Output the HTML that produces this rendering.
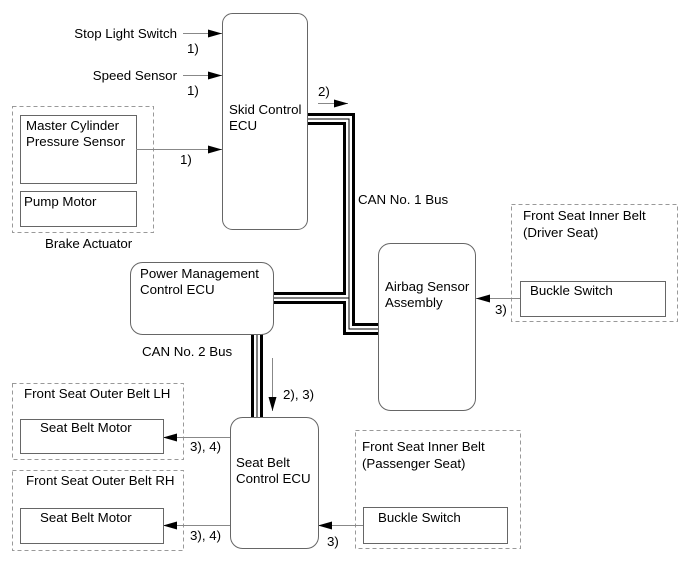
<!DOCTYPE html>
<html><head><style>
html,body{margin:0;padding:0;background:#fff;}
svg{display:block;}
text{font-family:"Liberation Sans",Arial,sans-serif;font-size:13.3px;fill:#000;}
</style></head><body>
<svg width="691" height="562" viewBox="0 0 691 562" xmlns="http://www.w3.org/2000/svg">
<defs>
<marker id="ah" markerWidth="14" markerHeight="8" refX="14" refY="4" orient="auto" markerUnits="userSpaceOnUse">
<path d="M0,0 L14,4 L0,8 z" fill="#000"/>
</marker>
</defs>
<g fill="none" stroke="#999" stroke-dasharray="4,3" stroke-width="1">
<rect x="12.5" y="106.5" width="141" height="126"/>
<rect x="511.5" y="204.5" width="166" height="117"/>
<rect x="12.5" y="383.5" width="171" height="76"/>
<rect x="12.5" y="470.5" width="171" height="80"/>
<rect x="355.5" y="430.5" width="165" height="118"/>
</g>
<g fill="#fff" stroke="#666" stroke-width="1">
<rect x="20.5" y="115.5" width="116" height="68"/>
<rect x="20.5" y="191.5" width="116" height="35"/>
<rect x="520.5" y="281.5" width="145" height="35"/>
<rect x="20.5" y="419.5" width="143" height="34"/>
<rect x="20.5" y="508.5" width="143" height="35"/>
<rect x="363.5" y="507.5" width="144" height="36"/>
</g>
<g fill="none" stroke-linejoin="miter">
<path d="M307,119 H349 V329 H378 M273,298 H349 M257,334 V417" stroke="#000" stroke-width="12"/>
<path d="M307,119 H349 V329 H378 M273,298 H349 M257,334 V417" stroke="#fff" stroke-width="6"/>
<path d="M307,119 H349 V329 H378 M273,298 H349 M257,334 V417" stroke="#000" stroke-width="1"/>
</g>
<g fill="#fff" stroke="#666" stroke-width="1">
<rect x="222.5" y="13.5" width="85" height="216" rx="10"/>
<rect x="130.5" y="262.5" width="143" height="72" rx="12"/>
<rect x="378.5" y="243.5" width="97" height="167" rx="12"/>
<rect x="230.5" y="417.5" width="88" height="131" rx="12"/>
</g>
<g stroke="#888" stroke-width="1" fill="none" marker-end="url(#ah)">
<path d="M183,33.5 H222"/>
<path d="M183,75.5 H222"/>
<path d="M136,149.5 H222"/>
<path d="M318,103.5 H348"/>
<path d="M520,298.5 H476"/>
<path d="M272.5,358 V411"/>
<path d="M230,437.5 H163"/>
<path d="M230,525.5 H163"/>
<path d="M363,525.5 H318"/>
</g>
<text x="177" y="38" text-anchor="end">Stop Light Switch</text>
<text x="187" y="53">1)</text>
<text x="177" y="80" text-anchor="end">Speed Sensor</text>
<text x="187" y="95">1)</text>
<text x="26" y="130">Master Cylinder</text>
<text x="26" y="146">Pressure Sensor</text>
<text x="180" y="164">1)</text>
<text x="24" y="206">Pump Motor</text>
<text x="45" y="248">Brake Actuator</text>
<text x="229" y="114">Skid Control</text>
<text x="229" y="130">ECU</text>
<text x="318" y="96">2)</text>
<text x="358" y="204">CAN No. 1 Bus</text>
<text x="140" y="278">Power Management</text>
<text x="140" y="294">Control ECU</text>
<text x="142" y="356">CAN No. 2 Bus</text>
<text x="283" y="399">2), 3)</text>
<text x="385" y="291">Airbag Sensor</text>
<text x="385" y="307">Assembly</text>
<text x="523" y="220">Front Seat Inner Belt</text>
<text x="523" y="237">(Driver Seat)</text>
<text x="530" y="295">Buckle Switch</text>
<text x="495" y="314">3)</text>
<text x="24" y="398">Front Seat Outer Belt LH</text>
<text x="40" y="432">Seat Belt Motor</text>
<text x="190" y="451">3), 4)</text>
<text x="26" y="485">Front Seat Outer Belt RH</text>
<text x="40" y="522">Seat Belt Motor</text>
<text x="190" y="540">3), 4)</text>
<text x="236" y="467">Seat Belt</text>
<text x="236" y="483">Control ECU</text>
<text x="362" y="451">Front Seat Inner Belt</text>
<text x="362" y="468">(Passenger Seat)</text>
<text x="378" y="522">Buckle Switch</text>
<text x="327" y="546">3)</text>
</svg>
</body></html>
